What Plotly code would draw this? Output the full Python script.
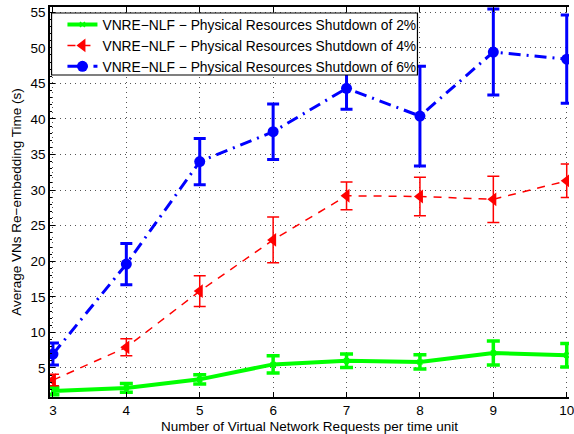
import plotly.graph_objects as go

# Number of virtual network requests per time unit
requests = [3, 4, 5, 6, 7, 8, 9, 10]

# Average re-embedding time (s) and error half-widths for each shutdown level
time_2pct = [1.75, 2.2, 3.4, 5.5, 6.0, 5.85, 7.1, 6.8]
err_2pct = [0.5, 0.6, 0.65, 1.2, 0.95, 1.0, 1.7, 1.65]

time_4pct = [3.3, 7.9, 15.8, 23.0, 29.2, 29.1, 28.7, 31.3]
err_4pct = [0.8, 1.2, 2.15, 3.2, 1.95, 2.7, 3.25, 2.35]

time_6pct = [6.95, 19.6, 34.0, 38.2, 44.3, 40.4, 49.4, 48.4]
err_6pct = [1.55, 2.9, 3.25, 3.9, 2.95, 7.0, 6.05, 6.2]

names = [
    "VNRE\u2212NLF \u2212 Physical Resources Shutdown of 2%",
    "VNRE\u2212NLF \u2212 Physical Resources Shutdown of 4%",
    "VNRE\u2212NLF \u2212 Physical Resources Shutdown of 6%",
]

FONT = "Liberation Sans, Arial, Helvetica, sans-serif"

fig = go.Figure()

fig.add_trace(go.Scatter(
    x=requests, y=time_2pct, name=names[0], mode="lines+markers",
    line=dict(color="#00FF00", width=4),
    marker=dict(symbol="x-thin", size=5, color="#00FF00",
                line=dict(color="#00FF00", width=1.5)),
    error_y=dict(type="data", array=err_2pct, color="#00FF00",
                 thickness=3.5, width=6.5),
))

fig.add_trace(go.Scatter(
    x=requests, y=time_4pct, name=names[1], mode="lines+markers",
    line=dict(color="#FF0000", width=1.5, dash="8px,7px"),
    marker=dict(symbol="triangle-left", size=12, color="#FF0000"),
    error_y=dict(type="data", array=err_4pct, color="#FF0000",
                 thickness=1.5, width=6),
))

fig.add_trace(go.Scatter(
    x=requests, y=time_6pct, name=names[2], mode="lines+markers",
    line=dict(color="#0000FF", width=3, dash="12px,6px,2px,6px"),
    marker=dict(symbol="circle", size=11, color="#0000FF"),
    error_y=dict(type="data", array=err_6pct, color="#0000FF",
                 thickness=3, width=6),
))

# Legend frame: white box that sits over the data, legend entries drawn on it
fig.add_shape(
    type="rect", xref="paper", yref="paper",
    x0=0.003, x1=0.708, y0=(397 - 75) / 390, y1=(397 - 13) / 390,
    fillcolor="white", line=dict(color="black", width=1.2), layer="above",
)

fig.update_layout(
    width=574, height=434,
    margin=dict(l=50, r=0, t=7, b=37),
    paper_bgcolor="white", plot_bgcolor="white",
    font=dict(family=FONT, size=13.5, color="black"),
    showlegend=True,
    legend=dict(
        x=0.024, y=(397 - 9) / 390, xanchor="left", yanchor="top",
        bgcolor="rgba(0,0,0,0)", borderwidth=0,
        font=dict(family=FONT, size=13.8, color="black"),
        tracegroupgap=0,
    ),
)

fig.update_xaxes(
    range=[2.96, 10.031],
    tickmode="array", tickvals=requests, ticktext=[str(v) for v in requests],
    ticklabeloverflow="allow",
    ticks="inside", ticklen=5, tickcolor="black",
    showline=True, linecolor="black", linewidth=1.5, mirror="ticks",
    showgrid=True, gridcolor="#555555", griddash="1px,4px", gridwidth=1,
    zeroline=False,
    title=dict(text="Number of Virtual Network Requests per time unit",
               font=dict(size=13.5), standoff=5),
)

fig.update_yaxes(
    range=[0.92, 55.73],
    tickmode="linear", tick0=5, dtick=5,
    ticks="inside", ticklen=5, tickcolor="black",
    minor=dict(ticks="inside", ticklen=2, dtick=1, tick0=0, tickcolor="black",
               showgrid=False),
    showline=True, linecolor="black", linewidth=1.5, mirror=False,
    showgrid=True, gridcolor="#555555", griddash="1px,4px", gridwidth=1,
    zeroline=False,
    title=dict(text="Average VNs Re\u2212embedding Time (s)",
               font=dict(size=13.5), standoff=6),
)

fig.write_html("out.html")
